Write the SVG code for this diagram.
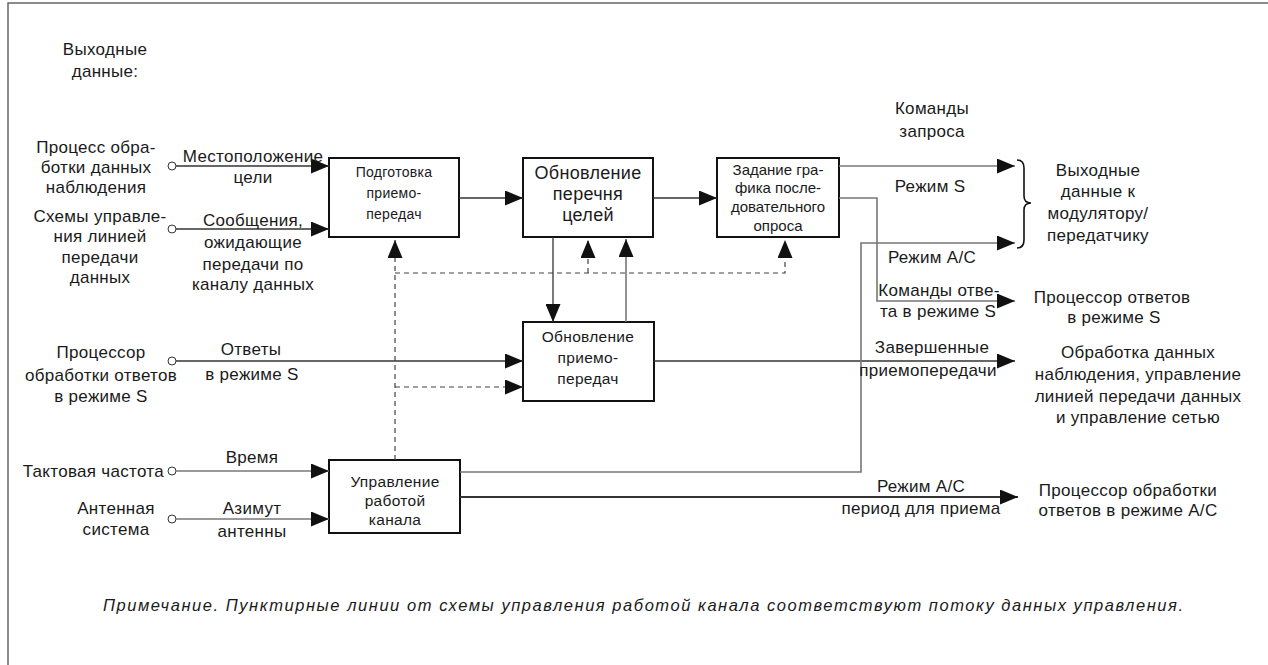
<svg xmlns="http://www.w3.org/2000/svg" width="1268" height="665" viewBox="0 0 1268 665">
  <defs>
    <marker id="arr" markerUnits="userSpaceOnUse" markerWidth="18" markerHeight="15" refX="18" refY="7.5" orient="auto">
      <path d="M0,0 L18,7.5 L0,15 z" fill="#111"/>
    </marker>
    <style>
      text { font-family: "Liberation Sans", Arial, sans-serif; fill: #1a1a1a; }
      .lbl { font-size: 17px; text-anchor: middle; letter-spacing: 0.3px; }
      .end { font-size: 17px; text-anchor: end; letter-spacing: 0.3px; }
      .box { fill: #fff; stroke: #111; stroke-width: 2; }
      .ln { fill: none; stroke: #333; stroke-width: 1.3; }
      .gr { fill: none; stroke: #777; stroke-width: 1.6; }
      .ds { fill: none; stroke: #444; stroke-width: 1.2; stroke-dasharray: 5 4; }
      .pin { fill: #fff; stroke: #333; stroke-width: 1; }
      .note { font-size: 16.5px; font-style: italic; }
    </style>
  </defs>

  <rect width="1268" height="665" fill="#fff"/>
  <!-- frame -->
  <path d="M8,665 L8,3 L1268,3" fill="none" stroke="#666" stroke-width="1.5"/>

  <!-- source labels -->
  <g id="sources">
    <text class="lbl" x="105" y="55">Выходные</text>
    <text class="lbl" x="105" y="77">данные:</text>
    <text class="lbl" x="96" y="153">Процесс обра-</text>
    <text class="lbl" x="96" y="173">ботки данных</text>
    <text class="lbl" x="96" y="193">наблюдения</text>
    <text class="lbl" x="100" y="222">Схемы управле-</text>
    <text class="lbl" x="100" y="242">ния линией</text>
    <text class="lbl" x="100" y="263">передачи</text>
    <text class="lbl" x="100" y="283">данных</text>
    <text class="lbl" x="101" y="358">Процессор</text>
    <text class="lbl" x="101" y="381">обработки ответов</text>
    <text class="lbl" x="101" y="402">в режиме S</text>
    <text class="end" x="164" y="477">Тактовая частота</text>
    <text class="lbl" x="116" y="514">Антенная</text>
    <text class="lbl" x="116" y="535">система</text>
  </g>

  <!-- processing blocks -->
  <g id="prep">
    <rect class="box" x="329" y="158" width="130" height="79"/>
    <text class="lbl" style="font-size:14px" x="394" y="177">Подготовка</text>
    <text class="lbl" style="font-size:14px" x="394" y="198">приемо-</text>
    <text class="lbl" style="font-size:14px" x="394" y="219">передач</text>
  </g>
  <g id="targets">
    <rect class="box" x="523" y="158" width="130" height="79"/>
    <text class="lbl" style="font-size:18px" x="588" y="179">Обновление</text>
    <text class="lbl" style="font-size:18px" x="588" y="200">перечня</text>
    <text class="lbl" style="font-size:18px" x="588" y="221">целей</text>
  </g>
  <g id="schedule">
    <rect class="box" x="717" y="158" width="122" height="79"/>
    <text class="lbl" style="font-size:15px;letter-spacing:0" x="778" y="175">Задание гра-</text>
    <text class="lbl" style="font-size:15px;letter-spacing:0" x="778" y="193">фика после-</text>
    <text class="lbl" style="font-size:15px;letter-spacing:0" x="778" y="212">довательного</text>
    <text class="lbl" style="font-size:15px;letter-spacing:0" x="778" y="231">опроса</text>
  </g>
  <g id="update">
    <rect class="box" x="523" y="322" width="131" height="79"/>
    <text class="lbl" style="font-size:15.5px" x="588" y="342">Обновление</text>
    <text class="lbl" style="font-size:15.5px" x="588" y="363">приемо-</text>
    <text class="lbl" style="font-size:15.5px" x="588" y="384">передач</text>
  </g>
  <g id="channel">
    <rect class="box" x="329" y="460" width="131" height="73"/>
    <text class="lbl" style="font-size:15.5px" x="395" y="487">Управление</text>
    <text class="lbl" style="font-size:15.5px" x="395" y="506">работой</text>
    <text class="lbl" style="font-size:15.5px" x="395" y="525">канала</text>
  </g>

  <!-- destination labels -->
  <g id="sinks">
    <path d="M1017,160 Q1024,160 1024,168 L1024,196 Q1024,203 1031,203 Q1024,203 1024,210 L1024,240 Q1024,248 1017,248" fill="none" stroke="#111" stroke-width="1.6"/>
    <text class="lbl" x="1098" y="176">Выходные</text>
    <text class="lbl" x="1098" y="197">данные к</text>
    <text class="lbl" x="1098" y="219">модулятору/</text>
    <text class="lbl" x="1098" y="241">передатчику</text>
    <text class="lbl" x="1112" y="303">Процессор ответов</text>
    <text class="lbl" x="1114" y="323">в режиме  S</text>
    <text class="lbl" x="1138" y="358">Обработка данных</text>
    <text class="lbl" x="1138" y="380">наблюдения, управление</text>
    <text class="lbl" x="1138" y="402">линией передачи данных</text>
    <text class="lbl" x="1138" y="423">и управление сетью</text>
    <text class="lbl" x="1128" y="496">Процессор обработки</text>
    <text class="lbl" x="1128" y="516">ответов в режиме  A/C</text>
  </g>

  <!-- connectors -->
  <g id="connectors">
    <circle class="pin" cx="172" cy="166" r="4"/>
    <circle class="pin" cx="172" cy="229" r="4"/>
    <circle class="pin" cx="172" cy="361" r="4"/>
    <circle class="pin" cx="172" cy="471" r="4"/>
    <circle class="pin" cx="172" cy="519" r="4"/>

    <line class="ln" x1="176" y1="166" x2="329" y2="166" marker-end="url(#arr)"/>
    <line class="ln" x1="176" y1="229" x2="329" y2="229" marker-end="url(#arr)"/>
    <line class="ln" x1="459" y1="198" x2="523" y2="198" marker-end="url(#arr)"/>
    <line class="ln" x1="653" y1="198" x2="717" y2="198" marker-end="url(#arr)"/>
    <line class="ln" x1="553" y1="237" x2="553" y2="322" marker-end="url(#arr)"/>
    <line class="gr" x1="626" y1="322" x2="626" y2="239" marker-end="url(#arr)"/>
    <line class="ln" x1="176" y1="361" x2="523" y2="361" marker-end="url(#arr)"/>
    <line class="ln" x1="654" y1="361" x2="1015" y2="361" marker-end="url(#arr)"/>
    <line class="gr" x1="176" y1="471" x2="329" y2="471" marker-end="url(#arr)"/>
    <line class="gr" x1="176" y1="519" x2="329" y2="519" marker-end="url(#arr)"/>
    <polyline class="gr" points="460,472 861,472 861,243 1015,243" marker-end="url(#arr)"/>
    <line class="ln" x1="460" y1="497" x2="1018" y2="497" marker-end="url(#arr)" style="stroke-width:1.8"/>
    <line class="gr" x1="839" y1="166" x2="1015" y2="166" marker-end="url(#arr)"/>
    <polyline class="gr" points="839,198 877,198 877,301 1015,301" marker-end="url(#arr)"/>

    <!-- control flow (dashed) -->
    <line class="ds" x1="395" y1="460" x2="395" y2="240" marker-end="url(#arr)"/>
    <polyline class="ds" points="395,273 785,273 785,240" marker-end="url(#arr)"/>
    <line class="ds" x1="588" y1="273" x2="588" y2="240" marker-end="url(#arr)"/>
    <line class="ds" x1="395" y1="387" x2="523" y2="387" marker-end="url(#arr)"/>

    <!-- flow labels -->
    <text class="lbl" x="253" y="162">Местоположение</text>
    <text class="lbl" x="253" y="183">цели</text>
    <text class="lbl" x="253" y="226">Сообщения,</text>
    <text class="lbl" x="253" y="248">ожидающие</text>
    <text class="lbl" x="253" y="270">передачи по</text>
    <text class="lbl" x="253" y="290">каналу данных</text>
    <text class="lbl" x="251" y="355">Ответы</text>
    <text class="lbl" x="252" y="380">в режиме S</text>
    <text class="lbl" x="252" y="463">Время</text>
    <text class="lbl" x="252" y="514">Азимут</text>
    <text class="lbl" x="252" y="537">антенны</text>
    <text class="lbl" x="932" y="114">Команды</text>
    <text class="lbl" x="932" y="137">запроса</text>
    <text class="lbl" x="930" y="192">Режим S</text>
    <text class="lbl" x="932" y="263">Режим A/C</text>
    <text class="lbl" x="939" y="296">Команды отве-</text>
    <text class="lbl" x="938" y="317">та в режиме S</text>
    <text class="lbl" x="932" y="353">Завершенные</text>
    <text class="lbl" x="928" y="376">приемопередачи</text>
    <text class="lbl" x="921" y="492">Режим A/C</text>
    <text class="lbl" x="921" y="514">период для приема</text>
  </g>

  <text class="note" x="103" y="611" textLength="1080" lengthAdjust="spacing">Примечание.  Пунктирные линии от схемы управления работой  канала соответствуют потоку данных управления.</text>
</svg>
